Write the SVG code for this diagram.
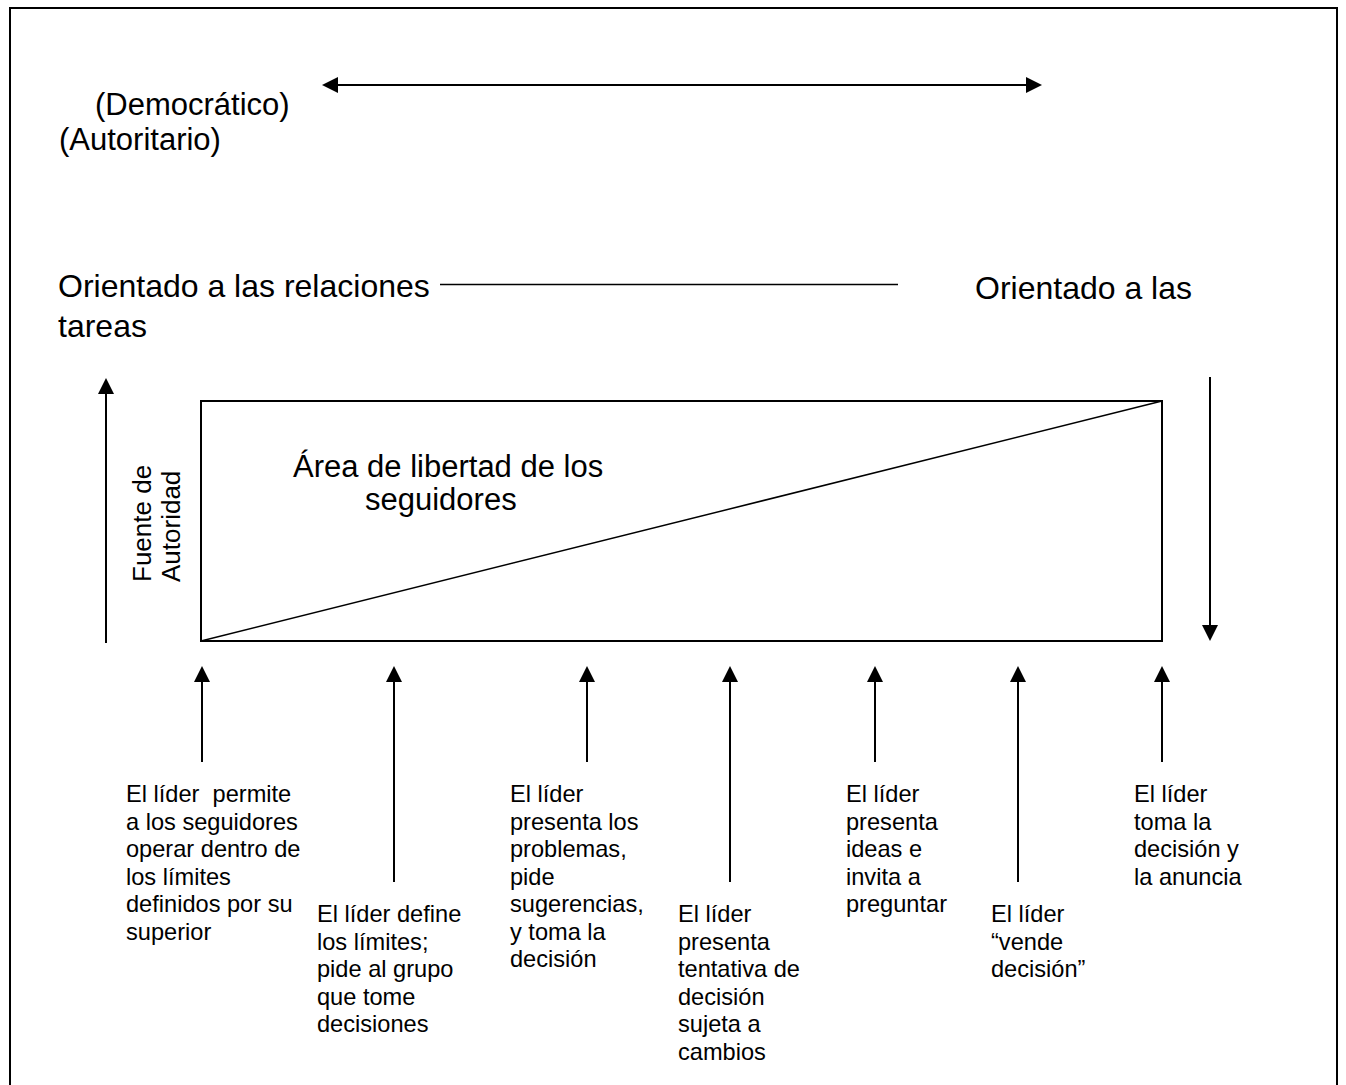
<svg xmlns="http://www.w3.org/2000/svg" width="1346" height="1085" viewBox="0 0 1346 1085">
<defs>
<style>
text{font-family:"Liberation Sans",Arial,sans-serif;fill:#000}
.big{font-size:31px}
.ori{font-size:32px}
.lbl{font-size:23.6px;white-space:pre}
.rot{font-size:26px}
.ln{stroke:#000;stroke-width:2;fill:none}
.thin{stroke:#000;stroke-width:1.5;fill:none}
</style>
<marker id="ah" markerUnits="userSpaceOnUse" markerWidth="16" markerHeight="16" viewBox="0 0 16 16" refX="2" refY="8" orient="auto">
<path d="M0,0 L16,8 L0,16 z" fill="#000"/>
</marker>
<marker id="ahs" markerUnits="userSpaceOnUse" markerWidth="16" markerHeight="16" viewBox="0 0 16 16" refX="2" refY="8" orient="auto-start-reverse">
<path d="M0,0 L16,8 L0,16 z" fill="#000"/>
</marker>
</defs>
<rect x="0" y="0" width="1346" height="1085" fill="#fff"/>
<rect x="10" y="8" width="1327" height="1100" fill="none" stroke="#000" stroke-width="2"/>

<g id="labels-top">
<text class="big" x="95" y="115">(Democrático)</text>
<text class="big" x="59" y="150">(Autoritario)</text>
<text class="ori" x="58" y="297">Orientado a las relaciones</text>
<text class="ori" x="58" y="337">tareas</text>
<text class="ori" x="975" y="299">Orientado a las</text>
</g>

<g id="area">
<rect x="201" y="401" width="961" height="240" class="ln"/>
<line x1="201" y1="641" x2="1162" y2="401" class="thin"/>
<text class="big" x="293" y="477">Área de libertad de los</text>
<text class="big" x="365" y="510">seguidores</text>
</g>

<g id="fuente">
<text class="rot" transform="translate(151,582) rotate(-90)">Fuente de</text>
<text class="rot" transform="translate(180,582) rotate(-90)">Autoridad</text>
</g>

<g id="connectors">
<line x1="336" y1="85" x2="1028" y2="85" class="ln" marker-start="url(#ahs)" marker-end="url(#ah)"/>
<line x1="440" y1="284.5" x2="898" y2="284.5" class="thin"/>
<line x1="106" y1="643" x2="106" y2="392" class="ln" marker-end="url(#ah)"/>
<line x1="1210" y1="377" x2="1210" y2="627" class="ln" marker-end="url(#ah)"/>
<line x1="202" y1="762" x2="202" y2="680" class="ln" marker-end="url(#ah)"/>
<line x1="394" y1="882" x2="394" y2="680" class="ln" marker-end="url(#ah)"/>
<line x1="587" y1="762" x2="587" y2="680" class="ln" marker-end="url(#ah)"/>
<line x1="730" y1="882" x2="730" y2="680" class="ln" marker-end="url(#ah)"/>
<line x1="875" y1="762" x2="875" y2="680" class="ln" marker-end="url(#ah)"/>
<line x1="1018" y1="882" x2="1018" y2="680" class="ln" marker-end="url(#ah)"/>
<line x1="1162" y1="762" x2="1162" y2="680" class="ln" marker-end="url(#ah)"/>
</g>

<g id="n1">
<text class="lbl" x="126" y="802"><tspan x="126">El líder  permite</tspan><tspan x="126" dy="27.5">a los seguidores</tspan><tspan x="126" dy="27.5">operar dentro de</tspan><tspan x="126" dy="27.5">los límites</tspan><tspan x="126" dy="27.5">definidos por su</tspan><tspan x="126" dy="27.5">superior</tspan></text>
</g>
<g id="n2">
<text class="lbl" x="317" y="922"><tspan x="317">El líder define</tspan><tspan x="317" dy="27.5">los límites;</tspan><tspan x="317" dy="27.5">pide al grupo</tspan><tspan x="317" dy="27.5">que tome</tspan><tspan x="317" dy="27.5">decisiones</tspan></text>
</g>
<g id="n3">
<text class="lbl" x="510" y="802"><tspan x="510">El líder</tspan><tspan x="510" dy="27.5">presenta los</tspan><tspan x="510" dy="27.5">problemas,</tspan><tspan x="510" dy="27.5">pide</tspan><tspan x="510" dy="27.5">sugerencias,</tspan><tspan x="510" dy="27.5">y toma la</tspan><tspan x="510" dy="27.5">decisión</tspan></text>
</g>
<g id="n4">
<text class="lbl" x="678" y="922"><tspan x="678">El líder</tspan><tspan x="678" dy="27.5">presenta</tspan><tspan x="678" dy="27.5">tentativa de</tspan><tspan x="678" dy="27.5">decisión</tspan><tspan x="678" dy="27.5">sujeta a</tspan><tspan x="678" dy="27.5">cambios</tspan></text>
</g>
<g id="n5">
<text class="lbl" x="846" y="802"><tspan x="846">El líder</tspan><tspan x="846" dy="27.5">presenta</tspan><tspan x="846" dy="27.5">ideas e</tspan><tspan x="846" dy="27.5">invita a</tspan><tspan x="846" dy="27.5">preguntar</tspan></text>
</g>
<g id="n6">
<text class="lbl" x="991" y="922"><tspan x="991">El líder</tspan><tspan x="991" dy="27.5">“vende</tspan><tspan x="991" dy="27.5">decisión”</tspan></text>
</g>
<g id="n7">
<text class="lbl" x="1134" y="802"><tspan x="1134">El líder</tspan><tspan x="1134" dy="27.5">toma la</tspan><tspan x="1134" dy="27.5">decisión y</tspan><tspan x="1134" dy="27.5">la anuncia</tspan></text>
</g>
</svg>
